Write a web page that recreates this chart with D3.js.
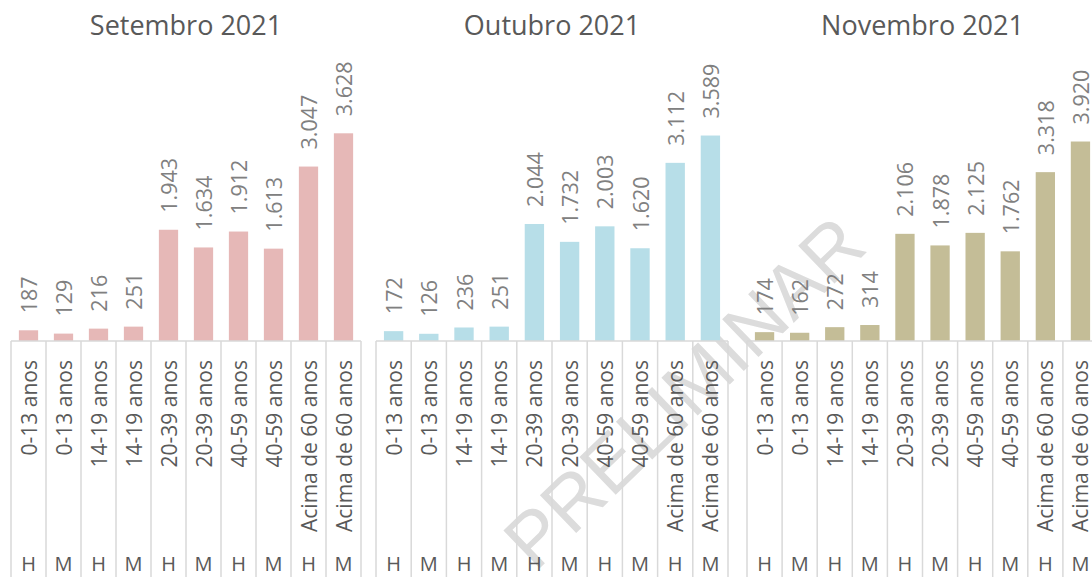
<!DOCTYPE html>
<html>
<head>
<meta charset="utf-8">
<script src="https://cdn.jsdelivr.net/npm/d3@7"></script>
<style>
  body { margin: 0; background: #fff; }
  svg { display: block; font-family: "Open Sans", sans-serif; }
</style>
</head>
<body>
<div id="chart"></div>
<script>
// faixas etárias e sexo (eixo de duas linhas)
var categorias = ["0-13 anos", "0-13 anos", "14-19 anos", "14-19 anos", "20-39 anos",
    "20-39 anos", "40-59 anos", "40-59 anos", "Acima de 60 anos", "Acima de 60 anos"];
var sexos = ["H", "M", "H", "M", "H", "M", "H", "M", "H", "M"];

var meses = ["Setembro 2021", "Outubro 2021", "Novembro 2021"];

var setembro = [187, 129, 216, 251, 1943, 1634, 1912, 1613, 3047, 3628];
var outubro = [172, 126, 236, 251, 2044, 1732, 2003, 1620, 3112, 3589];
var novembro = [174, 162, 272, 314, 2106, 1878, 2125, 1762, 3318, 3920];

var maximos = [4000, 4000, 4500];

window.onload = () => {
    var width = 1092;
    var height = 577;

    var svg = d3.select("#chart")
        .append("svg")
        .attr("width", width)
        .attr("height", height);

    var fmt = d3.formatLocale({ decimal: ",", thousands: ".", grouping: [3], currency: ["R$", ""] }).format(",d");

    var series = [setembro, outubro, novembro];
    var cores = ["#e6b8b7", "#b7dee8", "#c4bd97"];
    var paineis = [[11, 361], [376, 728], [747, 1098]];

    var topo = 112, base = 341;

    // marca d'agua
    svg.append("text")
        .attr("transform", "translate(684,392) rotate(-44)")
        .attr("text-anchor", "middle")
        .attr("dominant-baseline", "central")
        .style("font-family", "'Liberation Sans', Arial, sans-serif")
        .style("font-size", "76px")
        .attr("fill", "#dcdcdc")
        .text("PRELIMINAR");

    series.forEach((valores, p) => {
        var x0 = paineis[p][0], x1 = paineis[p][1];
        var idx = d3.range(valores.length);

        var x = d3.scaleBand()
            .domain(idx)
            .range([x0, x1])
            .paddingInner(0.45)
            .paddingOuter(0.225);

        var cel = d3.scaleBand().domain(idx).range([x0, x1]);

        var y = d3.scaleLinear()
            .domain([0, maximos[p]])
            .range([base, topo]);

        var g = svg.append("g");

        // título
        g.append("text")
            .attr("x", (x0 + x1) / 2)
            .attr("y", 35)
            .attr("text-anchor", "middle")
            .attr("fill", "#595959")
            .style("font-size", "27px")
            .text(meses[p]);

        // barras
        g.selectAll("rect")
            .data(valores)
            .enter()
            .append("rect")
            .attr("x", (d, i) => x(i))
            .attr("width", x.bandwidth())
            .attr("y", d => y(d))
            .attr("height", d => base - y(d))
            .attr("fill", cores[p]);

        // rótulos dos valores
        g.selectAll(".valor")
            .data(valores)
            .enter()
            .append("text")
            .attr("class", "valor")
            .attr("transform", (d, i) => "translate(" + (x(i) + x.bandwidth() / 2) + "," + (y(d) - 17) + ") rotate(-90)")
            .attr("dominant-baseline", "central")
            .attr("fill", "#808080")
            .style("font-size", "21.5px")
            .text(d => fmt(d));

        // eixo: linha base e divisórias
        g.append("line")
            .attr("x1", x0).attr("x2", x1)
            .attr("y1", base).attr("y2", base)
            .attr("stroke", "#d9d9d9")
            .attr("stroke-width", 1.5);

        g.selectAll(".div")
            .data(d3.range(valores.length + 1))
            .enter()
            .append("line")
            .attr("class", "div")
            .attr("x1", i => x0 + i * cel.step())
            .attr("x2", i => x0 + i * cel.step())
            .attr("y1", base)
            .attr("y2", height)
            .attr("stroke", "#d9d9d9")
            .attr("stroke-width", 1.5);

        // faixa etária
        g.selectAll(".cat")
            .data(categorias)
            .enter()
            .append("text")
            .attr("class", "cat")
            .attr("transform", (d, i) => "translate(" + (cel(i) + cel.bandwidth() / 2) + "," + 360 + ") rotate(-90)")
            .attr("text-anchor", "end")
            .attr("dominant-baseline", "central")
            .attr("fill", "#595959")
            .style("font-size", "21px")
            .text(d => d);

        // sexo
        g.selectAll(".sexo")
            .data(sexos)
            .enter()
            .append("text")
            .attr("class", "sexo")
            .attr("x", (d, i) => cel(i) + cel.bandwidth() / 2)
            .attr("y", 571)
            .attr("text-anchor", "middle")
            .attr("fill", "#595959")
            .style("font-size", "20px")
            .text(d => d);
    });
};
</script>
</body>
</html>
